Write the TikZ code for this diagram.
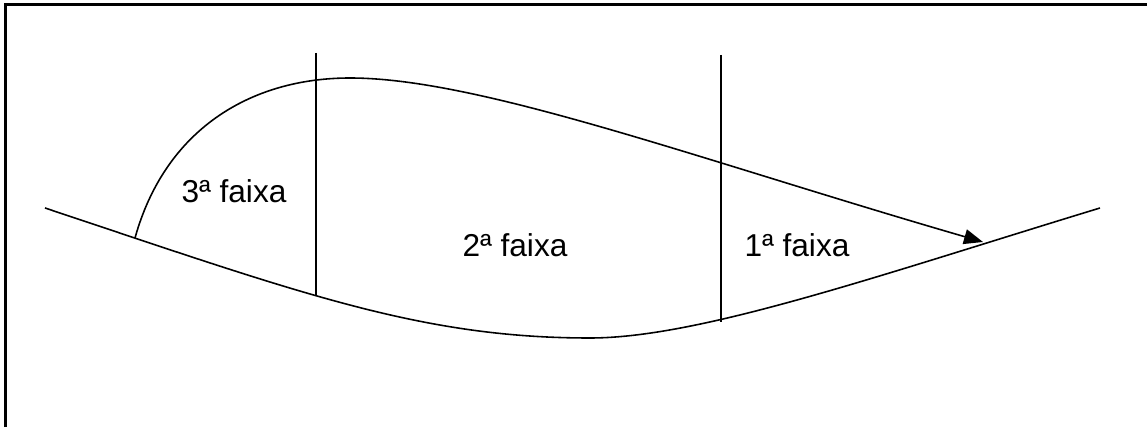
\documentclass[tikz,border=0pt]{standalone}
\usepackage{fontspec}
\setmainfont{Liberation Sans}
\usetikzlibrary{arrows.meta}
\begin{document}
\begin{tikzpicture}[line width=0.9pt]
			\useasboundingbox (0,0) rectangle (22.94,8.54);
			\path
			(0.90,4.38) coordinate (L0)
			(11.80,1.78) coordinate (LM)
			(22.00,4.38) coordinate (L1)
			(2.70,3.78) coordinate (U0)
			(7.00,6.98) coordinate (UP)
			(19.66,3.70) coordinate (U1)
			(6.32,7.48) coordinate (A)
			(6.32,2.64) coordinate (B)
			(14.42,7.44) coordinate (C)
			(14.42,2.10) coordinate (D);
			
			\draw[line width=1.4pt] (0.11,0)--(0.11,8.45)--(22.94,8.45);
			
			\draw (L0) .. controls (6.00,2.68) and (8.40,1.78) .. (LM)
			.. controls (14.00,1.78) and (17.60,3.04) .. (L1);
			
			\draw[-{Triangle[length=0.38cm,width=0.3cm]}] (U0) .. controls (3.30,5.94) and (5.00,6.98) .. (UP)
			.. controls (9.60,6.98) and (14.00,5.34) .. (U1);
			
			\draw (A)--(B);
			\draw (C)--(D);
			
			\node[font=\fontsize{18}{20}\selectfont] (f3) at (4.68,4.72) {3ª faixa};
			\node[font=\fontsize{18}{20}\selectfont] (f2) at (10.30,3.64) {2ª faixa};
			\node[font=\fontsize{18}{20}\selectfont] (f1) at (15.94,3.64) {1ª faixa};
		\end{tikzpicture}
\end{document}
